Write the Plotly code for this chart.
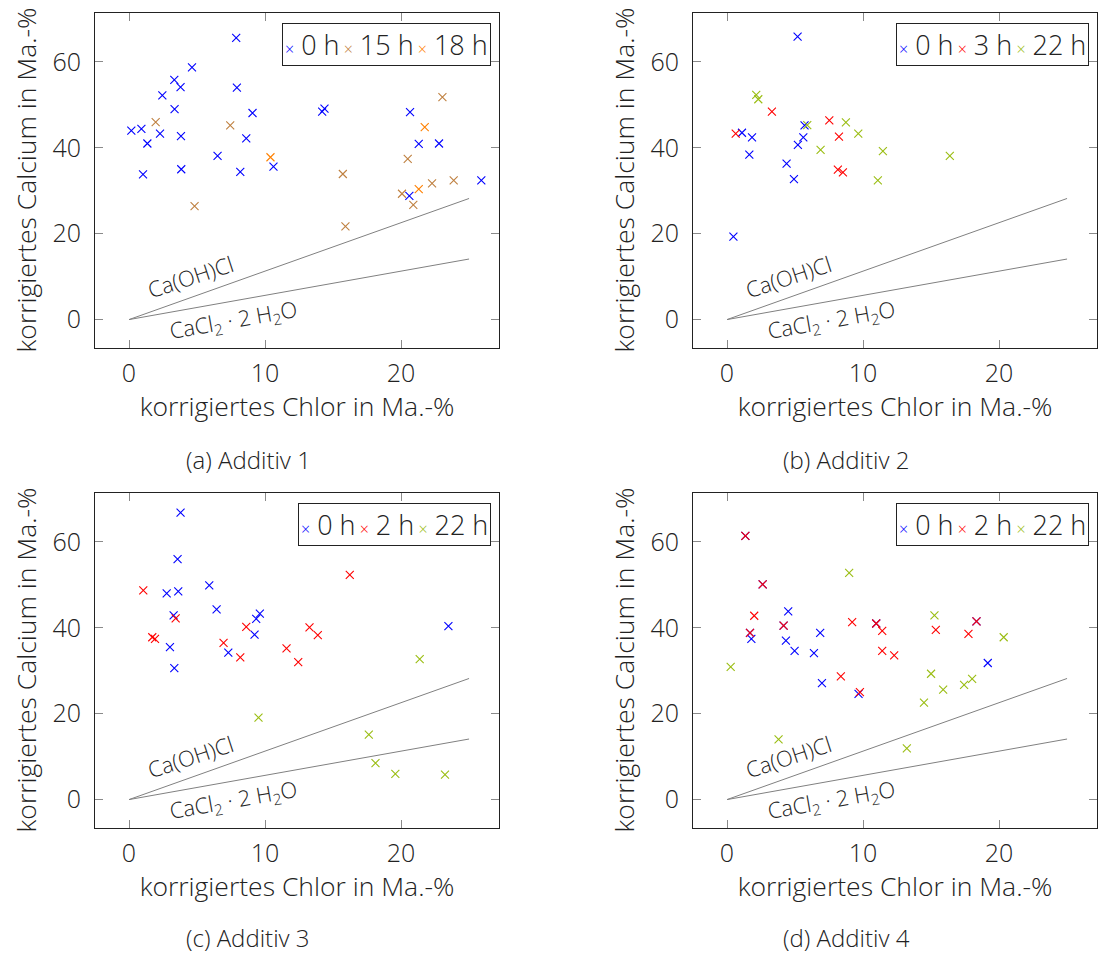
import plotly.graph_objects as go

W, H = 1101, 953

# ---------------- data ----------------
a_0h_x = [0.17, 0.91, 1.35, 1.03, 2.28, 2.45, 3.35, 3.33, 3.79, 3.82, 3.84, 4.63, 7.88, 7.93, 6.51,
          9.08, 8.62, 8.18, 10.62, 14.2, 14.37, 20.66, 21.3, 22.79, 20.61, 25.9]
a_0h_y = [44.0, 44.4, 41.0, 33.8, 43.3, 52.2, 49.0, 55.8, 54.1, 42.7, 35.0, 58.7, 65.6, 54.0, 38.1,
          48.1, 42.2, 34.4, 35.6, 48.4, 49.1, 48.3, 40.9, 41.0, 28.8, 32.4]
a_15h_x = [1.96, 7.44, 4.82, 15.72, 15.91, 20.49, 20.07, 20.9, 22.28, 23.87, 23.04]
a_15h_y = [46.0, 45.2, 26.4, 33.9, 21.7, 37.4, 29.3, 26.7, 31.7, 32.4, 51.8]
a_18h_x = [10.4, 21.74, 21.3]
a_18h_y = [37.8, 44.8, 30.4]

b_0h_x = [5.19, 0.47, 1.10, 1.84, 1.64, 4.38, 4.92, 5.21, 5.61, 5.70]
b_0h_y = [65.9, 19.3, 43.5, 42.4, 38.4, 36.3, 32.7, 40.7, 42.4, 45.2]
b_3h_x = [0.64, 3.3, 7.52, 8.23, 8.15, 8.52]
b_3h_y = [43.3, 48.4, 46.4, 42.6, 34.9, 34.3]
b_22h_x = [2.15, 2.30, 5.90, 8.74, 9.65, 6.88, 11.46, 11.09, 16.38]
b_22h_y = [52.3, 51.3, 45.3, 45.9, 43.3, 39.5, 39.2, 32.4, 38.1]

c_0h_x = [3.79, 3.57, 2.77, 3.62, 5.90, 6.44, 3.28, 3.01, 3.33, 7.3, 9.23, 9.35, 9.62, 23.48]
c_0h_y = [66.8, 56.0, 48.0, 48.5, 49.9, 44.3, 42.9, 35.5, 30.6, 34.2, 38.4, 42.1, 43.3, 40.4]
c_2h_x = [1.05, 1.71, 1.91, 3.43, 6.95, 8.18, 8.62, 11.58, 12.44, 13.27, 13.88, 16.23]
c_2h_y = [48.7, 37.8, 37.4, 42.2, 36.5, 33.1, 40.2, 35.2, 32.0, 40.1, 38.3, 52.3]
c_22h_x = [9.52, 21.37, 17.63, 18.12, 19.58, 23.23]
c_22h_y = [19.1, 32.7, 15.1, 8.5, 6.0, 5.8]

d_0h_x = [4.5, 1.79, 4.33, 4.97, 6.39, 6.85, 6.98, 19.17, 9.67, 1.35, 2.62, 4.16, 1.69, 10.97, 18.34]
d_0h_y = [43.8, 37.4, 37.0, 34.6, 34.1, 38.8, 27.1, 31.8, 24.6, 61.4, 50.1, 40.5, 38.8, 41.0, 41.5]
d_2h_x = [1.35, 2.62, 2.0, 4.16, 1.69, 9.2, 10.97, 11.41, 11.41, 12.29, 8.37, 9.77, 15.35, 17.75, 18.34]
d_2h_y = [61.4, 50.1, 42.8, 40.5, 38.8, 41.3, 41.0, 39.3, 34.6, 33.6, 28.7, 25.0, 39.5, 38.6, 41.5]
d_22h_x = [0.27, 3.79, 8.98, 15.25, 20.34, 15.0, 15.89, 14.48, 17.43, 18.02, 13.22]
d_22h_y = [30.9, 14.0, 52.8, 42.9, 37.8, 29.3, 25.6, 22.6, 26.7, 28.1, 11.9]

# reference lines (stoichiometric ratios)
ref_x = [0, 25]
caohcl_y = [0, 28.2]
cacl2_y = [0, 14.1]

x_ticks = [0, 10, 20]
y_ticks = [0, 20, 40, 60]

x_title = "korrigiertes Chlor in Ma.-%"
y_title = "korrigiertes Calcium in Ma.-%"
captions = ["(a) Additiv 1", "(b) Additiv 2", "(c) Additiv 3", "(d) Additiv 4"]

BLUE = "#0000ff"
RED = "#ff0000"
BROWN = "#bf8040"
ORANGE = "#ff8000"
GREEN = "#9abd12"

panels = [
    [("0 h", a_0h_x, a_0h_y, BLUE), ("15 h", a_15h_x, a_15h_y, BROWN), ("18 h", a_18h_x, a_18h_y, ORANGE)],
    [("0 h", b_0h_x, b_0h_y, BLUE), ("3 h", b_3h_x, b_3h_y, RED), ("22 h", b_22h_x, b_22h_y, GREEN)],
    [("0 h", c_0h_x, c_0h_y, BLUE), ("2 h", c_2h_x, c_2h_y, RED), ("22 h", c_22h_x, c_22h_y, GREEN)],
    [("0 h", d_0h_x, d_0h_y, BLUE), ("2 h", d_2h_x, d_2h_y, RED), ("22 h", d_22h_x, d_22h_y, GREEN)],
]

# ---------------- layout geometry (pixels) ----------------
FONT = "Open Sans"
TXT = "#222222"
px_boxes = [  # left, right, top, bottom
    (95, 499, 12.5, 347.5),
    (693, 1097, 12.5, 347.5),
    (95, 499, 492.5, 827.5),
    (693, 1097, 492.5, 827.5),
]
caption_pos = [(248, 459), (846, 459), (248, 937), (846, 937)]
legend_box = [(491, 23), (1089, 23), (491, 503), (1089, 503)]

fig = go.Figure()
annotations = []

for i, series in enumerate(panels):
    sfx = "" if i == 0 else str(i + 1)
    xa, ya = "x" + sfx, "y" + sfx
    # reference lines
    for ly in (caohcl_y, cacl2_y):
        fig.add_trace(go.Scatter(x=ref_x, y=ly, mode="lines", xaxis=xa, yaxis=ya,
                                 line=dict(color="#808080", width=1), showlegend=False,
                                 hoverinfo="skip"))
    for name, xs, ys, col in series:
        fig.add_trace(go.Scatter(x=xs, y=ys, mode="markers", name=name, xaxis=xa, yaxis=ya,
                                 showlegend=False,
                                 marker=dict(symbol="x-thin", size=8, color=col,
                                             line=dict(color=col, width=1.1))))
    l, r, t, b = px_boxes[i]
    axis_common = dict(showline=True, linecolor=TXT, linewidth=1, mirror="ticks",
                       ticks="inside", ticklen=8, tickcolor="#8a8a8a", tickwidth=1,
                       showgrid=False, zeroline=False,
                       tickfont=dict(family=FONT, size=25, color=TXT, weight=300))
    fig.layout["xaxis" + sfx] = dict(
        axis_common, domain=[l / W, r / W], anchor=ya, range=[-2.5, 27.2],
        tickvals=x_ticks, ticklabelstandoff=3,
        title=dict(text=x_title, standoff=6, font=dict(family=FONT, size=26.5, color=TXT, weight=300)))
    fig.layout["yaxis" + sfx] = dict(
        axis_common, domain=[1 - b / H, 1 - t / H], anchor=xa, range=[-6.5, 71.5],
        tickvals=y_ticks, ticklabelstandoff=8,
        title=dict(text=y_title, standoff=8, font=dict(family=FONT, size=26.5, color=TXT, weight=300)))

    # line labels
    annotations.append(dict(xref=xa, yref=ya, x=4.55, y=10.2, text="Ca(OH)Cl", showarrow=False,
                            textangle=-18, xanchor="center", yanchor="middle",
                            font=dict(family=FONT, size=22, color=TXT, weight=300)))
    annotations.append(dict(xref=xa, yref=ya, x=7.65, y=-0.4,
                            text="CaCl<sub>2</sub> · 2 H<sub>2</sub>O", showarrow=False,
                            textangle=-10, xanchor="center", yanchor="middle",
                            font=dict(family=FONT, size=22, color=TXT, weight=300)))
    # caption
    cx, cy = caption_pos[i]
    annotations.append(dict(xref="paper", yref="paper", x=cx / W, y=1 - cy / H, text=captions[i],
                            showarrow=False, xanchor="center", yanchor="middle",
                            font=dict(family=FONT, size=24, color=TXT, weight=300)))
    # legend box
    parts = []
    for j, (name, xs, ys, col) in enumerate(series):
        lead = "" if j == 0 else " "
        parts.append(f'<span style="color:{col};font-size:16px">{lead}×</span> {name}')
    lx, ly = legend_box[i]
    annotations.append(dict(xref="paper", yref="paper", x=lx / W, y=1 - ly / H,
                            text="".join(parts), showarrow=False, xanchor="right", yanchor="top",
                            align="left", bordercolor=TXT, borderwidth=1, borderpad=2,
                            bgcolor="white",
                            font=dict(family=FONT, size=27, color=TXT, weight=300)))

fig.update_layout(width=W, height=H, margin=dict(l=0, r=0, t=0, b=0),
                  paper_bgcolor="white", plot_bgcolor="white",
                  font=dict(family=FONT, color=TXT, weight=300),
                  showlegend=False, annotations=annotations)

fig.write_html("out.html", config={"displayModeBar": False},
               post_script="document.body.style.margin='0';")
